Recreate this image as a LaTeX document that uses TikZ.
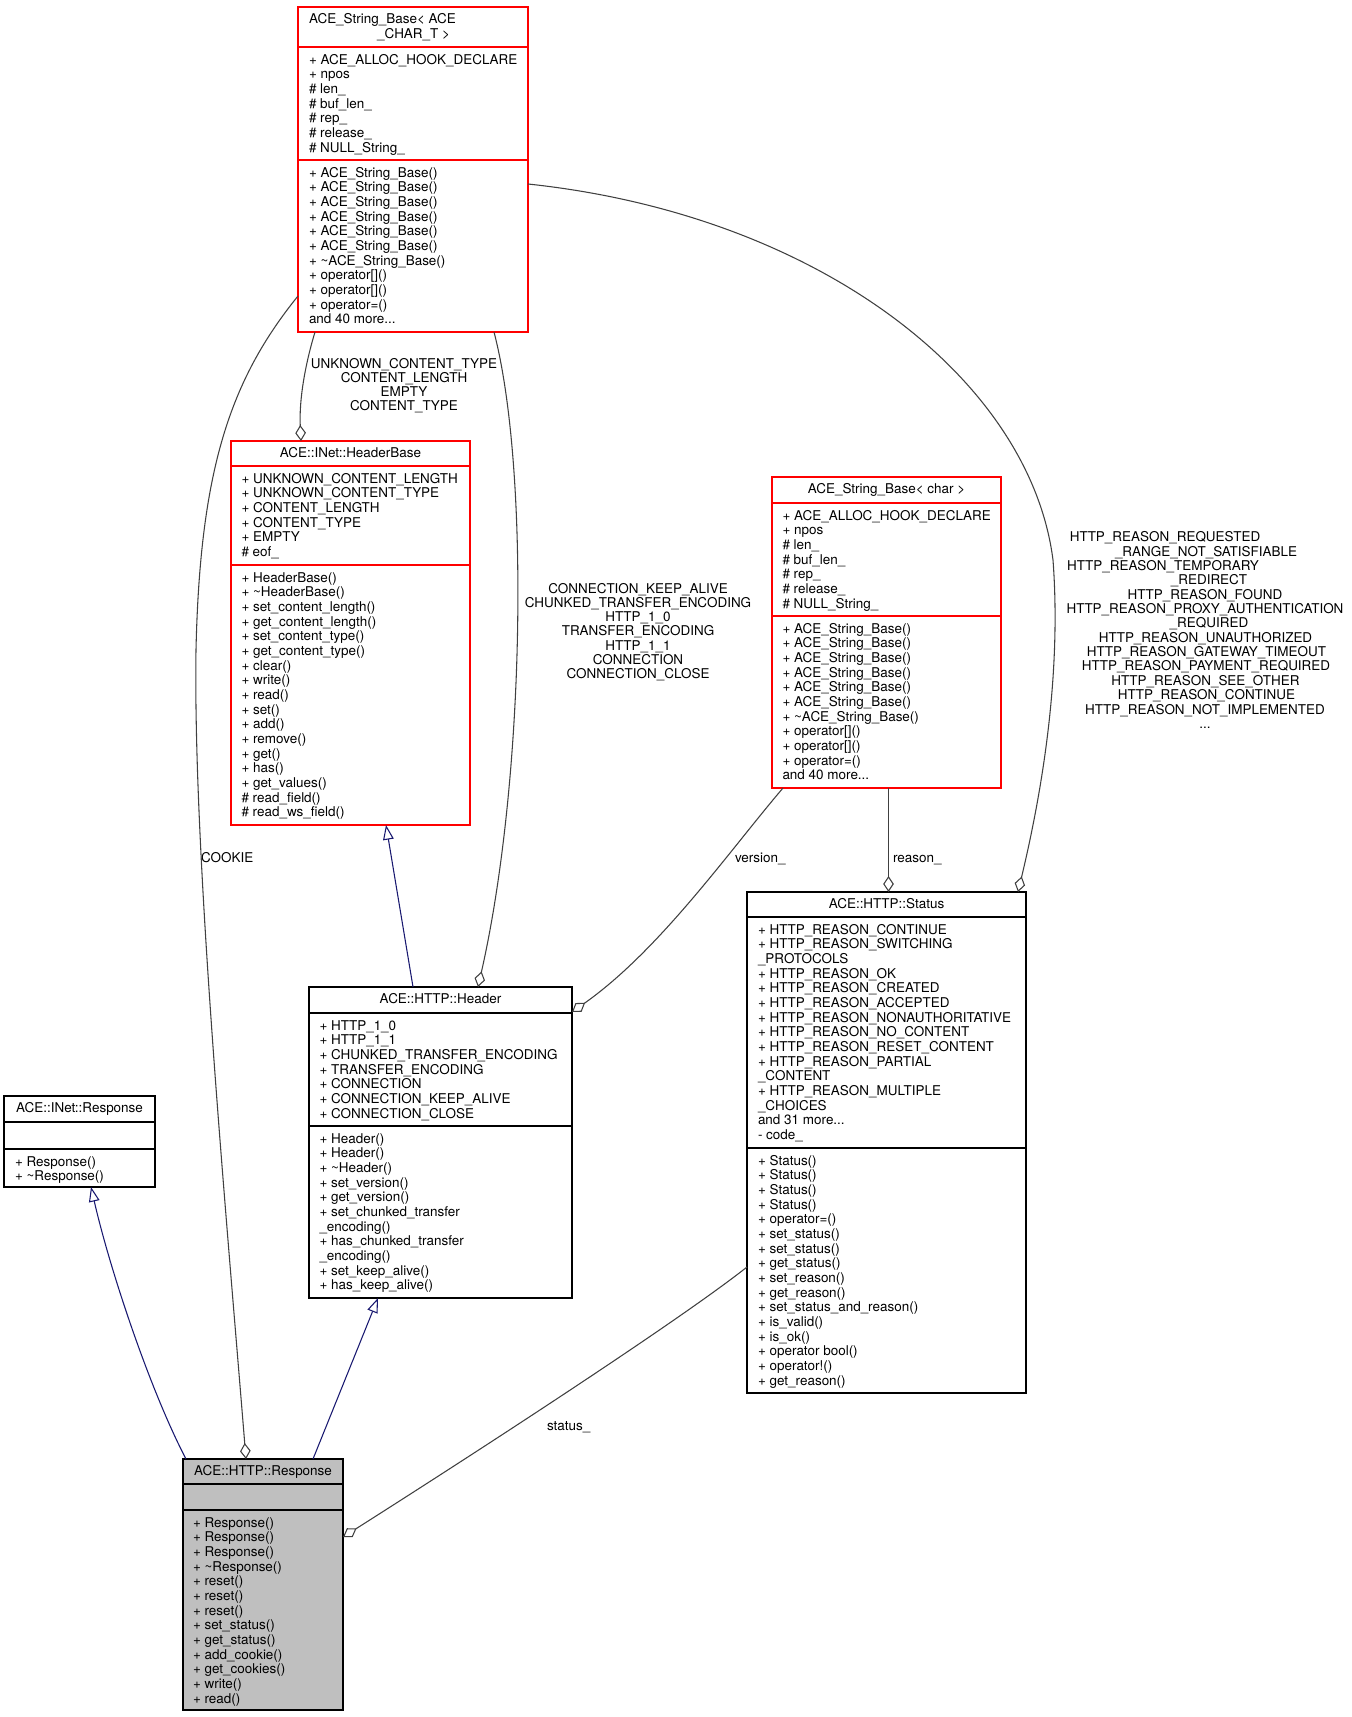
\documentclass[tikz,border=0pt]{standalone}
\usepackage{fontspec}
\setmainfont{TeX Gyre Heros}
\usetikzlibrary{arrows.meta,calc,fit}
\definecolor{edgegray}{HTML}{404040}
\definecolor{inhblue}{HTML}{191970}
\definecolor{boxred}{HTML}{FF0000}
\definecolor{fillgray}{HTML}{BFBFBF}
\newcommand\threedots{.\kern0pt.\kern0pt.}
\tikzset{
  txt/.style={inner sep=0pt, outer sep=0pt, font=\fontsize{10.1pt}{11pt}\selectfont},
  cls/.style={draw, line width=0.8pt, inner sep=0pt, outer sep=0pt},
  divider/.style={line width=0.8pt},
  agg/.style={draw=edgegray, line width=0.8pt, -{Diamond[open, length=12pt, width=8pt]}},
  inh/.style={draw=inhblue, line width=0.8pt, -{Triangle[open, length=11pt, width=8pt]}},
}
% #1 name prefix, #2 x, #3 first baseline, #4 pitch, #5 anchor, #6 list
\newcommand\umllines[6]{%
  \foreach \t [count=\i from 0] in {#6}
    \node[txt, anchor=#5] (#1\i) at (#2, #3+\i*#4) {\t};}
\begin{document}
\begin{tikzpicture}[x=0.75pt,y=-0.75pt]
\useasboundingbox (0,0) rectangle (1352,1717);

% ---------- ACE_String_Base< ACE_CHAR_T >
\node[cls, draw=boxred, fit={(298,7) (528,332)}] (sbt) {};
\draw[divider, boxred] (298,47) -- (528,47) (298,160) -- (528,160);
\node[txt, anchor=base west] (sbt-t1) at (309,23.5) {ACE\_String\_Base< ACE};
\node[txt, anchor=base east] (sbt-t2) at (450,38) {\_CHAR\_T >};
\umllines{sbt-a}{309}{64}{14.67}{base west}{{+ ACE\_ALLOC\_HOOK\_DECLARE},{+ npos},{\# len\_},{\# buf\_len\_},{\# rep\_},{\# release\_},{\# NULL\_String\_}}
\umllines{sbt-m}{309}{177}{14.67}{base west}{{+ ACE\_String\_Base()},{+ ACE\_String\_Base()},{+ ACE\_String\_Base()},{+ ACE\_String\_Base()},{+ ACE\_String\_Base()},{+ ACE\_String\_Base()},{+ \textasciitilde ACE\_String\_Base()},{+ operator[]()},{+ operator[]()},{+ operator=()},{and 40 more\threedots}}

% ---------- ACE::INet::HeaderBase
\node[cls, draw=boxred, fit={(231,441) (470,825)}] (hb) {};
\draw[divider, boxred] (231,466) -- (470,466) (231,565) -- (470,565);
\node[txt, anchor=base] (hb-t) at (350.5,457.5) {ACE::INet::HeaderBase};
\umllines{hb-a}{241.5}{483}{14.67}{base west}{{+ UNKNOWN\_CONTENT\_LENGTH},{+ UNKNOWN\_CONTENT\_TYPE},{+ CONTENT\_LENGTH},{+ CONTENT\_TYPE},{+ EMPTY},{\# eof\_}}
\umllines{hb-m}{241.5}{582}{14.67}{base west}{{+ HeaderBase()},{+ \textasciitilde HeaderBase()},{+ set\_content\_length()},{+ get\_content\_length()},{+ set\_content\_type()},{+ get\_content\_type()},{+ clear()},{+ write()},{+ read()},{+ set()},{+ add()},{+ remove()},{+ get()},{+ has()},{+ get\_values()},{\# read\_field()},{\# read\_ws\_field()}}

% ---------- ACE_String_Base< char >
\node[cls, draw=boxred, fit={(772,477) (1001,788)}] (sbc) {};
\draw[divider, boxred] (772,503) -- (1001,503) (772,616) -- (1001,616);
\node[txt, anchor=base] (sbc-t) at (886.5,493.5) {ACE\_String\_Base< char >};
\umllines{sbc-a}{782.5}{520}{14.67}{base west}{{+ ACE\_ALLOC\_HOOK\_DECLARE},{+ npos},{\# len\_},{\# buf\_len\_},{\# rep\_},{\# release\_},{\# NULL\_String\_}}
\umllines{sbc-m}{782.5}{633}{14.67}{base west}{{+ ACE\_String\_Base()},{+ ACE\_String\_Base()},{+ ACE\_String\_Base()},{+ ACE\_String\_Base()},{+ ACE\_String\_Base()},{+ ACE\_String\_Base()},{+ \textasciitilde ACE\_String\_Base()},{+ operator[]()},{+ operator[]()},{+ operator=()},{and 40 more\threedots}}

% ---------- ACE::HTTP::Status
\node[cls, fit={(747,892) (1026,1393)}] (st) {};
\draw[divider] (747,917) -- (1026,917) (747,1148) -- (1026,1148);
\node[txt, anchor=base] (st-t) at (886.5,908.5) {ACE::HTTP::Status};
\umllines{st-a}{758}{934}{14.67}{base west}{{+ HTTP\_REASON\_CONTINUE},{+ HTTP\_REASON\_SWITCHING},{\_PROTOCOLS},{+ HTTP\_REASON\_OK},{+ HTTP\_REASON\_CREATED},{+ HTTP\_REASON\_ACCEPTED},{+ HTTP\_REASON\_NONAUTHORITATIVE},{+ HTTP\_REASON\_NO\_CONTENT},{+ HTTP\_REASON\_RESET\_CONTENT},{+ HTTP\_REASON\_PARTIAL},{\_CONTENT},{+ HTTP\_REASON\_MULTIPLE},{\_CHOICES},{and 31 more\threedots},{- code\_}}
\umllines{st-m}{758}{1165}{14.67}{base west}{{+ Status()},{+ Status()},{+ Status()},{+ Status()},{+ operator=()},{+ set\_status()},{+ set\_status()},{+ get\_status()},{+ set\_reason()},{+ get\_reason()},{+ set\_status\_and\_reason()},{+ is\_valid()},{+ is\_ok()},{+ operator bool()},{+ operator!()},{+ get\_reason()}}

% ---------- ACE::HTTP::Header
\node[cls, fit={(309,987) (572,1298)}] (hd) {};
\draw[divider] (309,1013) -- (572,1013) (309,1126) -- (572,1126);
\node[txt, anchor=base] (hd-t) at (440.5,1003.5) {ACE::HTTP::Header};
\umllines{hd-a}{319.5}{1030}{14.67}{base west}{{+ HTTP\_1\_0},{+ HTTP\_1\_1},{+ CHUNKED\_TRANSFER\_ENCODING},{+ TRANSFER\_ENCODING},{+ CONNECTION},{+ CONNECTION\_KEEP\_ALIVE},{+ CONNECTION\_CLOSE}}
\umllines{hd-m}{319.5}{1143}{14.67}{base west}{{+ Header()},{+ Header()},{+ \textasciitilde Header()},{+ set\_version()},{+ get\_version()},{+ set\_chunked\_transfer},{\_encoding()},{+ has\_chunked\_transfer},{\_encoding()},{+ set\_keep\_alive()},{+ has\_keep\_alive()}}

% ---------- ACE::INet::Response
\node[cls, fit={(4,1096) (155,1187)}] (ir) {};
\draw[divider] (4,1122) -- (155,1122) (4,1149) -- (155,1149);
\node[txt, anchor=base] (ir-t) at (79.5,1112.5) {ACE::INet::Response};
\umllines{ir-m}{15}{1166}{14.67}{base west}{{+ Response()},{+ \textasciitilde Response()}}

% ---------- ACE::HTTP::Response
\node[cls, fill=fillgray, fit={(183,1459) (343,1710)}] (rs) {};
\draw[divider] (183,1484) -- (343,1484) (183,1510) -- (343,1510);
\node[txt, anchor=base] (rs-t) at (263,1475.5) {ACE::HTTP::Response};
\umllines{rs-m}{193}{1527}{14.67}{base west}{{+ Response()},{+ Response()},{+ Response()},{+ \textasciitilde Response()},{+ reset()},{+ reset()},{+ reset()},{+ set\_status()},{+ get\_status()},{+ add\_cookie()},{+ get\_cookies()},{+ write()},{+ read()}}

% ---------- connectors
% String_Base<ACE_CHAR_T> -> HeaderBase
\draw[agg] ($(sbt.south west)+(17,0)$) .. controls (305,365) and (299,400) .. ($(hb.north west)+(70,0)$);
% String_Base<ACE_CHAR_T> -> Header
\draw[agg] ($(sbt.south west)+(196,0)$) .. controls (530,470) and (525,780) .. ($(hd.north west)+(169,0)$);
% String_Base<ACE_CHAR_T> -> HTTP::Response (COOKIE)
\draw[agg] ($(sbt.south west)+(0,-36)$) .. controls (230,380) and (200,470) .. (196,650)
   .. controls (193,850) and (225,1200) .. ($(rs.north west)+(63,0)$);
% String_Base<ACE_CHAR_T> -> Status
\draw[agg] ($(sbt.north east)+(0,177)$) .. controls (820,215) and (1030,380) .. (1053,560)
   .. controls (1062,680) and (1040,800) .. ($(st.north east)+(-8,0)$);
% String_Base<char> -> Header (version_)
\draw[agg] ($(sbc.south west)+(11,0)$) .. controls (730,850) and (660,950) .. ($(hd.north east)+(0,25)$);
% String_Base<char> -> Status (reason_)
\draw[agg] ($(sbc.south west)+(116.5,0)$) -- ($(st.north west)+(141.5,0)$);
% Header -> HeaderBase
\draw[inh] ($(hd.north west)+(104,0)$) -- ($(hb.south west)+(155,0)$);
% HTTP::Response -> Header
\draw[inh] ($(rs.north west)+(130,0)$) -- ($(hd.south west)+(69,0)$);
% HTTP::Response -> INet::Response
\draw[inh] ($(rs.north west)+(3,0)$) .. controls (150,1390) and (110,1270) .. ($(ir.south west)+(87,0)$);
% Status -> HTTP::Response (status_)
\draw[agg] ($(st.north west)+(0,375)$) .. controls (680,1320) and (480,1450) .. ($(rs.north east)+(0,78)$);

% ---------- edge labels
\umllines{l1-}{404}{368}{14.33}{base}{{UNKNOWN\_CONTENT\_TYPE},{CONTENT\_LENGTH},{EMPTY},{CONTENT\_TYPE}}
\umllines{l2-}{638}{593}{14.33}{base}{{CONNECTION\_KEEP\_ALIVE},{CHUNKED\_TRANSFER\_ENCODING},{HTTP\_1\_0},{TRANSFER\_ENCODING},{HTTP\_1\_1},{CONNECTION},{CONNECTION\_CLOSE}}
\node[txt, anchor=base west] (lcookie) at (201,862) {COOKIE};
\node[txt, anchor=base west] (lversion) at (735,862) {version\_};
\node[txt, anchor=base west] (lreason) at (893,862) {reason\_};
\node[txt, anchor=base west] (lstatus) at (547,1430) {status\_};
\node[txt, anchor=base] (r1) at (1165,541.7) {HTTP\_REASON\_REQUESTED};
\node[txt, anchor=base] (r2) at (1206,556) {\_RANGE\_NOT\_SATISFIABLE};
\node[txt, anchor=base] (r3) at (1163,570.4) {HTTP\_REASON\_TEMPORARY};
\node[txt, anchor=base] (r4) at (1209,584.8) {\_REDIRECT};
\node[txt, anchor=base] (r5) at (1205,599.1) {HTTP\_REASON\_FOUND};
\node[txt, anchor=base] (r6) at (1205,613.5) {HTTP\_REASON\_PROXY\_AUTHENTICATION};
\node[txt, anchor=base] (r7) at (1209,627.8) {\_REQUIRED};
\node[txt, anchor=base] (r8) at (1205.5,642.2) {HTTP\_REASON\_UNAUTHORIZED};
\node[txt, anchor=base] (r9) at (1206.5,656.5) {HTTP\_REASON\_GATEWAY\_TIMEOUT};
\node[txt, anchor=base] (r10) at (1206,670.9) {HTTP\_REASON\_PAYMENT\_REQUIRED};
\node[txt, anchor=base] (r11) at (1205.5,685.2) {HTTP\_REASON\_SEE\_OTHER};
\node[txt, anchor=base] (r12) at (1206.5,699.6) {HTTP\_REASON\_CONTINUE};
\node[txt, anchor=base] (r13) at (1205,714) {HTTP\_REASON\_NOT\_IMPLEMENTED};
\node[txt, anchor=base] (r14) at (1205,728.3) {\threedots};
\end{tikzpicture}
\end{document}
